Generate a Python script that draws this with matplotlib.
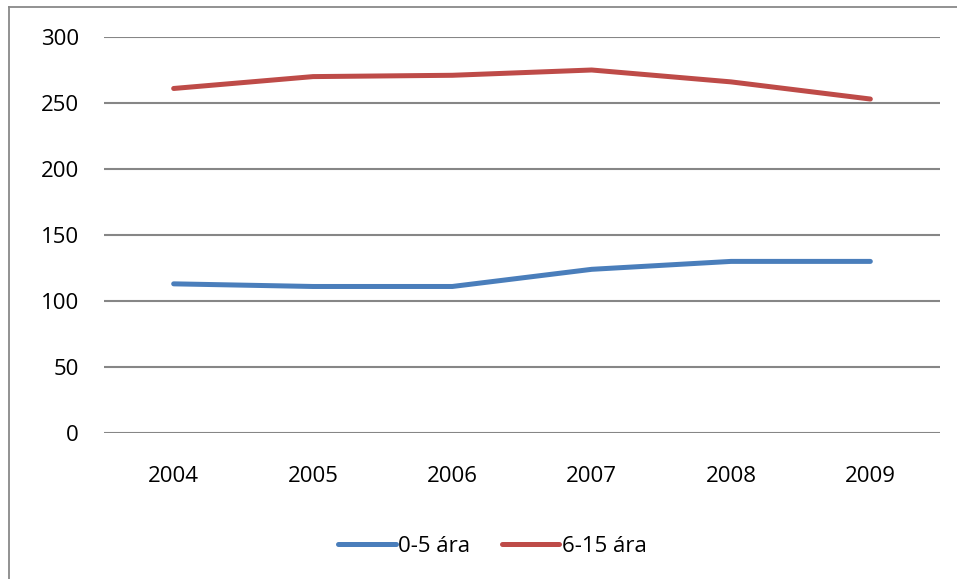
import matplotlib
matplotlib.use("Agg")
import matplotlib.pyplot as plt
from matplotlib.lines import Line2D

# data
years = ["2004", "2005", "2006", "2007", "2008", "2009"]
kids_0_5 = [113, 111, 111, 124, 130, 130]
kids_6_15 = [261, 270, 271, 275, 266, 253]
series_names = ["0-5 ára", "6-15 ára"]
yticks = [0, 50, 100, 150, 200, 250, 300]

plt.rcParams['font.family'] = ['Open Sans', 'DejaVu Sans']

W, H = 957, 579
fig = plt.figure(figsize=(W / 100, H / 100), dpi=100)
ax = fig.add_axes([104 / W, 1 - 433 / H, (940 - 104) / W, (433 - 37) / H])

x = range(len(years))
ax.plot(x, kids_0_5, color="#4A7EBB", lw=3.6, solid_capstyle="round", label=series_names[0])
ax.plot(x, kids_6_15, color="#BE4B48", lw=3.6, solid_capstyle="round", label=series_names[1])

ax.set_xlim(-0.5, len(years) - 0.5)
ax.set_ylim(0, 300)
ax.set_yticks(yticks)
ax.set_xticks(list(x))
ax.set_xticklabels(years)
ax.grid(axis="y", color="#868686", lw=1.5)
ax.set_axisbelow(True)
for s in ax.spines.values():
    s.set_visible(False)
ax.tick_params(length=0, labelsize=16, colors="black")
ax.tick_params(axis="y", pad=18)
ax.tick_params(axis="x", pad=24)

fig.legend(loc="center", bbox_to_anchor=(0.5 + 14 / W, 1 - 546 / H), ncol=2, frameon=False,
           fontsize=16, handlelength=2.6, handletextpad=0.1, columnspacing=1.4)

# outer chart border (only top and left show in the crop)
fig.add_artist(Line2D([9 / W, 9 / W], [0, 1 - 7 / H], transform=fig.transFigure, color="#898989", lw=1.3))
fig.add_artist(Line2D([9 / W, 1], [1 - 7 / H, 1 - 7 / H], transform=fig.transFigure, color="#898989", lw=1.3))

fig.savefig("out.png", dpi=100, facecolor="white")
